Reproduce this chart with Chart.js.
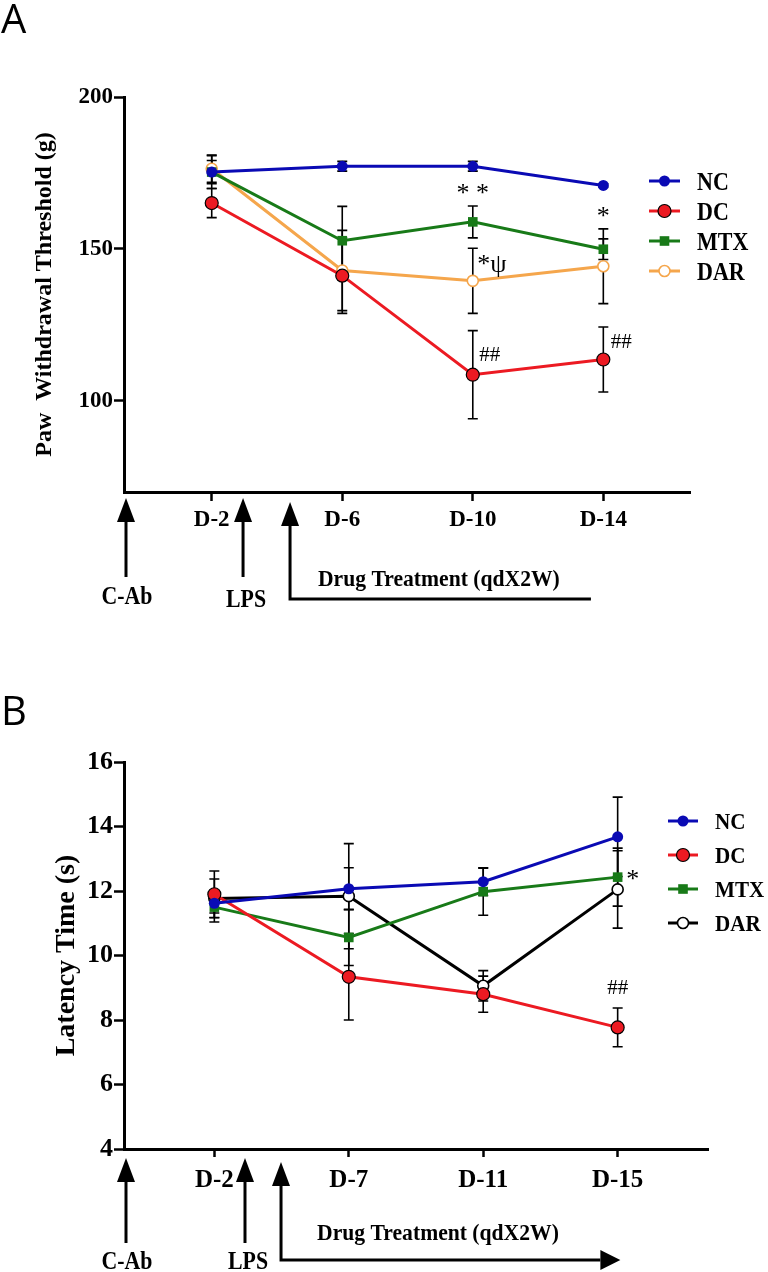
<!DOCTYPE html>
<html>
<head>
<meta charset="utf-8">
<script src="https://cdn.jsdelivr.net/npm/chart.js@4.4.1/dist/chart.umd.min.js"></script>
<style>
  html, body { margin: 0; padding: 0; background: #fff; }
  canvas { display: block; }
</style>
</head>
<body>
<canvas id="chartA" width="768" height="640"></canvas>
<canvas id="chartB" width="768" height="632"></canvas>
<script>
// ---- panel A : paw withdrawal threshold (g) ----
const daysA = ['D-2', 'D-6', 'D-10', 'D-14'];
const ticksA = [100, 150, 200];
const ncA = [175.3, 177.2, 177.2, 170.9];
const ncErrA = [3.8, 1.6, 1.6, 0.5];
const dcA = [165.1, 141.2, 108.6, 113.6];
const dcErrA = [4.8, 12.4, 14.5, 10.7];
const mtxA = [175.3, 152.7, 158.9, 149.9];
const mtxErrA = [5.4, 11.3, 5.25, 3.4];
const darA = [176.4, 142.9, 139.5, 144.3];
const darErrA = [4.5, 13.2, 10.7, 12.3];
const marksA = [
  { text: '* *', day: 2, value: 169.6, dx: 0 },
  { text: '*', day: 3, value: 162, dx: 0 },
  { text: '*ψ', day: 2, value: 144.5, dx: 19 },
  { text: '##', day: 2, value: 115.5, dx: 17 },
  { text: '##', day: 3, value: 119.8, dx: 18 }
];

// ---- panel B : latency time (s) ----
const daysB = ['D-2', 'D-7', 'D-11', 'D-15'];
const ticksB = [4, 6, 8, 10, 12, 14, 16];
const ncB = [11.62, 12.07, 12.29, 13.68];
const ncErrB = [0.3, 0.65, 0.43, 1.23];
const dcB = [11.9, 9.34, 8.80, 7.77];
const dcErrB = [0.72, 1.34, 0.56, 0.6];
const mtxB = [11.5, 10.56, 11.98, 12.43];
const mtxErrB = [0.46, 0.87, 0.73, 0.9];
const darB = [11.77, 11.84, 9.06, 12.05];
const darErrB = [0.6, 1.63, 0.47, 1.2];
const marksB = [
  { text: '*', day: 3, value: 12.49, dx: 15 },
  { text: '##', day: 3, value: 9.01, dx: 0 }
];

const groups = ['NC', 'DC', 'MTX', 'DAR'];
const SERIF = "'Liberation Serif', 'Times New Roman', serif";

const BLUE = '#0a0ab4';
const RED = '#ec1a22';
const GREEN = '#187a18';
const ORANGE = '#f5a64c';

function series(label, vals, errs, color, style) {
  return {
    label: label,
    data: vals.map((v, i) => ({ x: i + 1, y: v })),
    errors: errs,
    borderColor: color,
    borderWidth: 3,
    tension: 0,
    pointStyle: style.shape,
    pointRadius: style.r,
    pointBackgroundColor: style.fill,
    pointBorderColor: style.stroke,
    pointBorderWidth: style.bw,
    mk: style
  };
}

function drawMarker(ctx, m, x, y) {
  ctx.save();
  ctx.fillStyle = m.fill;
  ctx.strokeStyle = m.stroke;
  ctx.lineWidth = m.bw;
  ctx.beginPath();
  if (m.shape === 'rect') {
    const s = m.r * Math.SQRT1_2;
    ctx.rect(x - s, y - s, 2 * s, 2 * s);
  } else {
    ctx.arc(x, y, m.r, 0, Math.PI * 2);
  }
  ctx.fill();
  if (m.bw) ctx.stroke();
  ctx.restore();
}

function upArrow(ctx, x, tip, base, end) {
  ctx.beginPath();
  ctx.moveTo(x, base - 1);
  ctx.lineTo(x, end);
  ctx.stroke();
  ctx.beginPath();
  ctx.moveTo(x, tip);
  ctx.lineTo(x - 9, base);
  ctx.lineTo(x + 9, base);
  ctx.closePath();
  ctx.fill();
}

// text centred vertically on y, optionally squeezed sideways like the original figure
function centeredText(ctx, text, x, y, sx) {
  const m = ctx.measureText(text);
  ctx.save();
  ctx.translate(x, y);
  ctx.scale(sx || 1, 1);
  ctx.fillText(text, 0, (m.actualBoundingBoxAscent - m.actualBoundingBoxDescent) / 2);
  ctx.restore();
}

const extras = {
  id: 'extras',
  beforeDatasetsDraw(chart) {
    const ctx = chart.ctx, xs = chart.scales.x, ys = chart.scales.y;
    ctx.save();
    ctx.strokeStyle = '#000';
    ctx.lineWidth = 1.6;
    chart.data.datasets.forEach(ds => {
      ds.data.forEach((pt, i) => {
        const px = xs.getPixelForValue(pt.x);
        const top = ys.getPixelForValue(pt.y + ds.errors[i]);
        const bot = ys.getPixelForValue(pt.y - ds.errors[i]);
        ctx.beginPath();
        ctx.moveTo(px, top); ctx.lineTo(px, bot);
        ctx.moveTo(px - 5, top); ctx.lineTo(px + 5, top);
        ctx.moveTo(px - 5, bot); ctx.lineTo(px + 5, bot);
        ctx.stroke();
      });
    });
    ctx.restore();
  },
  afterDraw(chart) {
    const o = chart.options.plugins.extras;
    const ctx = chart.ctx, xs = chart.scales.x, ys = chart.scales.y;
    const b = chart.chartArea.bottom;
    ctx.save();

    // panel letter
    ctx.fillStyle = '#000';
    ctx.font = "40px 'Open Sans', 'Liberation Sans', sans-serif";
    ctx.textAlign = 'left';
    ctx.textBaseline = 'alphabetic';
    ctx.fillText(o.letter, 1, o.letterY);

    // significance marks
    o.marks.forEach(m => {
      const x = xs.getPixelForValue(m.day + 1) + m.dx;
      const y = ys.getPixelForValue(m.value);
      ctx.textAlign = 'center';
      ctx.font = (m.text.indexOf('#') >= 0 ? '21px ' : '26px ') + SERIF;
      centeredText(ctx, m.text, x, y);
    });

    // legend
    chart.data.datasets.forEach((ds, i) => {
      const y = o.legend.y[i];
      ctx.strokeStyle = ds.borderColor;
      ctx.lineWidth = 3;
      ctx.beginPath();
      ctx.moveTo(o.legend.x0, y);
      ctx.lineTo(o.legend.x1, y);
      ctx.stroke();
      drawMarker(ctx, ds.mk, (o.legend.x0 + o.legend.x1) / 2, y);
      ctx.fillStyle = '#000';
      ctx.font = 'bold ' + o.legend.size + 'px ' + SERIF;
      ctx.textAlign = 'left';
      centeredText(ctx, ds.label, o.legend.tx, y, 0.88);
    });

    // event arrows under the time axis
    const a = o.arrows;
    ctx.strokeStyle = '#000';
    ctx.fillStyle = '#000';
    ctx.lineWidth = 3;
    const xc = xs.getPixelForValue(xs.min) + 2;
    const xl = xs.getPixelForValue(a.lps);
    const xd = xs.getPixelForValue(a.drug);
    upArrow(ctx, xc, b + a.tip, b + a.base, b + a.end);
    upArrow(ctx, xl, b + a.tip, b + a.base, b + a.end);
    const xe = xs.getPixelForValue(a.drugEnd);
    ctx.beginPath();
    ctx.moveTo(xd, b + a.tip + 20);
    ctx.lineTo(xd, b + a.line);
    ctx.lineTo(a.head ? xe - a.head : xe, b + a.line);
    ctx.stroke();
    ctx.beginPath();
    ctx.moveTo(xd, b + a.tip + 4);
    ctx.lineTo(xd - 9, b + a.tip + 28);
    ctx.lineTo(xd + 9, b + a.tip + 28);
    ctx.closePath();
    ctx.fill();
    if (a.head) {
      ctx.beginPath();
      ctx.moveTo(xe, b + a.line);
      ctx.lineTo(xe - a.head, b + a.line - 10);
      ctx.lineTo(xe - a.head, b + a.line + 10);
      ctx.closePath();
      ctx.fill();
    }
    ctx.font = 'bold 26px ' + SERIF;
    ctx.textAlign = 'center';
    centeredText(ctx, 'C-Ab', xc + 1, b + a.labC, 0.84);
    centeredText(ctx, 'LPS', xl + 3, b + a.labL, 0.84);
    ctx.font = 'bold 23px ' + SERIF;
    ctx.textAlign = 'left';
    centeredText(ctx, 'Drug Treatment (qdX2W)', xs.getPixelForValue(a.text), b + a.textY, 0.94);
    ctx.restore();
  }
};

function makeChart(id, p) {
  const styles = [
    { shape: 'circle', r: 5.5, fill: BLUE, stroke: BLUE, bw: 0 },
    { shape: 'circle', r: 6.5, fill: RED, stroke: '#000', bw: 1.2 },
    { shape: 'rect', r: 6.8, fill: GREEN, stroke: GREEN, bw: 0 },
    { shape: 'circle', r: 5.5, fill: '#fff', stroke: p.darColor, bw: 1.6 }
  ];
  const colors = [BLUE, RED, GREEN, p.darColor];
  const datasets = p.vals.map((v, i) => series(groups[i], v, p.errs[i], colors[i], styles[i]));

  return new Chart(document.getElementById(id), {
    type: 'line',
    data: { datasets: datasets },
    options: {
      responsive: false,
      animation: false,
      devicePixelRatio: 1,
      layout: { padding: p.padding },
      scales: {
        x: {
          type: 'linear',
          min: p.xmin,
          max: p.xmax,
          afterFit(s) { s.height = 40; },
          afterBuildTicks(s) { s.ticks = p.days.map((d, i) => ({ value: i + 1 })); },
          border: { display: true, color: '#000', width: 3 },
          grid: { drawOnChartArea: false, drawTicks: true, tickLength: p.xTick, tickWidth: 2.5, tickColor: '#000' },
          ticks: {
            color: '#000',
            padding: p.xPad,
            maxRotation: 0,
            font: { family: SERIF, size: p.xFont, weight: 'bold' },
            callback: v => p.days[v - 1]
          }
        },
        y: {
          min: p.ymin,
          max: p.ymax,
          afterFit(s) { s.width = 124; },
          afterBuildTicks(s) { s.ticks = p.yticks.map(v => ({ value: v })); },
          border: { display: true, color: '#000', width: 3 },
          grid: { drawOnChartArea: false, drawTicks: true, tickLength: 10, tickWidth: 2.5, tickColor: '#000' },
          ticks: {
            color: '#000',
            padding: 1,
            font: { family: SERIF, size: p.yFont, weight: 'bold' }
          },
          title: {
            display: true,
            text: p.title,
            color: '#000',
            padding: { top: p.titlePad, bottom: 0 },
            font: { family: SERIF, size: p.titleSize, weight: 'bold' }
          }
        }
      },
      plugins: {
        legend: { display: false },
        tooltip: { enabled: false },
        extras: p.extras
      }
    },
    plugins: [extras]
  });
}

makeChart('chartA', {
  days: daysA, yticks: ticksA, ymin: 70, ymax: 200, xmin: 0.328, xmax: 4.664,
  vals: [ncA, dcA, mtxA, darA], errs: [ncErrA, dcErrA, mtxErrA, darErrA],
  darColor: ORANGE,
  padding: { left: 0, top: 97, right: 78, bottom: 108 },
  xTick: 9, xPad: 5, xFont: 23, yFont: 23,
  title: 'Paw  Withdrawal Threshold (g)', titleSize: 24, titlePad: 30,
  extras: {
    letter: 'A', letterY: 33, marks: marksA,
    legend: { x0: 649, x1: 680, tx: 697, size: 25, y: [181, 211, 241, 271] },
    arrows: { lps: 1.24, drug: 1.60, drugEnd: 3.905, head: 0, text: 1.814,
      tip: 6, base: 30, end: 85, line: 107, labC: 103, labL: 106, textY: 88 }
  }
});

makeChart('chartB', {
  days: daysB, yticks: ticksB, ymin: 4, ymax: 16, xmin: 0.328, xmax: 4.672,
  vals: [ncB, dcB, mtxB, darB], errs: [ncErrB, dcErrB, mtxErrB, darErrB],
  darColor: '#000',
  padding: { left: 0, top: 122, right: 60, bottom: 83 },
  xTick: 8, xPad: 9, xFont: 25, yFont: 26,
  title: 'Latency Time (s)', titleSize: 28, titlePad: 50,
  extras: {
    letter: 'B', letterY: 85, marks: marksB,
    legend: { x0: 668, x1: 698, tx: 715, size: 24, y: [181, 215, 249, 283] },
    arrows: { lps: 1.228, drug: 1.496, drugEnd: 4.02, head: 20, text: 1.764,
      tip: 9, base: 33, end: 94, line: 111, labC: 111, labL: 111, textY: 85 }
  }
});
</script>
</body>
</html>
